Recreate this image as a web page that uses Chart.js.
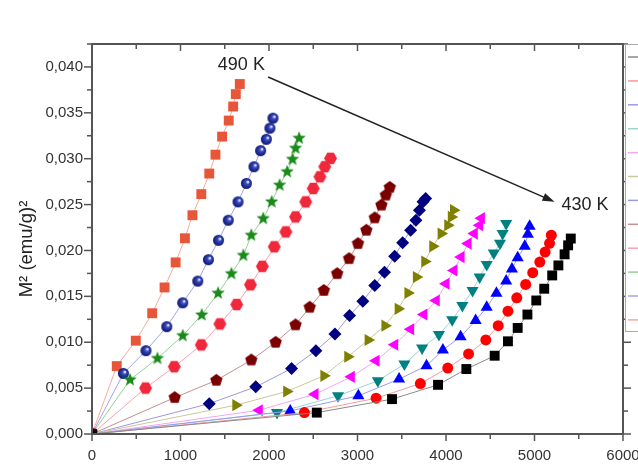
<!DOCTYPE html>
<html>
<head>
  <title>Arrott plot</title>
  <script src="https://cdn.jsdelivr.net/npm/chart.js"></script>
  <style>
    body { margin: 0; background: #fff; }
  </style>
</head>
<body>
<canvas id="myChart" width="638" height="470"></canvas>

<script>
// H/M (x) and M^2 (y) for each isotherm
var x430 = [0, 2540, 3390, 3910, 4230, 4550, 4700, 4810, 4920, 5020, 5110, 5200, 5270, 5340, 5380, 5410];
var y430 = [0, 0.00233, 0.00380, 0.00536, 0.00708, 0.00853, 0.01010, 0.01156, 0.01302, 0.01455, 0.01583, 0.01728, 0.01837, 0.01958, 0.02056, 0.02130];
var x435 = [0, 2400, 3210, 3710, 4020, 4255, 4450, 4590, 4700, 4800, 4900, 4980, 5060, 5120, 5170, 5190];
var y435 = [0, 0.00233, 0.00390, 0.00550, 0.00719, 0.00872, 0.01025, 0.01181, 0.01338, 0.01484, 0.01630, 0.01758, 0.01874, 0.01983, 0.02078, 0.02166];
var x440 = [0, 2240, 3010, 3470, 3780, 3965, 4165, 4335, 4460, 4570, 4680, 4745, 4810, 4890, 4925, 4945];
var y440 = [0, 0.00252, 0.00416, 0.00598, 0.00744, 0.00915, 0.01061, 0.01236, 0.01381, 0.01535, 0.01666, 0.01799, 0.01920, 0.02045, 0.02177, 0.02264];
var x445 = [0, 2090, 2780, 3230, 3530, 3730, 3920, 4070, 4185, 4300, 4380, 4460, 4540, 4610, 4640, 4680];
var y445 = [0, 0.00233, 0.00416, 0.00580, 0.00762, 0.00937, 0.01083, 0.01244, 0.01400, 0.01564, 0.01710, 0.01848, 0.01972, 0.02078, 0.02184, 0.02294];
var x450 = [0, 1890, 2520, 2930, 3210, 3420, 3600, 3750, 3890, 4000, 4090, 4170, 4250, 4320, 4380, 4400];
var y450 = [0, 0.00259, 0.00434, 0.00623, 0.00798, 0.00973, 0.01141, 0.01302, 0.01455, 0.01637, 0.01783, 0.01928, 0.02075, 0.02184, 0.02275, 0.02352];
var x455 = [0, 1625, 2200, 2620, 2890, 3120, 3310, 3460, 3570, 3665, 3760, 3850, 3945, 4020, 4060, 4085];
var y455 = [0, 0.00314, 0.00463, 0.00634, 0.00842, 0.01025, 0.01181, 0.01364, 0.01537, 0.01710, 0.01880, 0.02045, 0.02184, 0.02275, 0.02366, 0.02439];
var x460 = [0, 1325, 1850, 2255, 2530, 2745, 2910, 3060, 3195, 3305, 3420, 3510, 3600, 3660, 3700, 3740, 3770];
var y460 = [0, 0.00331, 0.00514, 0.00714, 0.00908, 0.01090, 0.01291, 0.01447, 0.01619, 0.01764, 0.01936, 0.02084, 0.02220, 0.02330, 0.02439, 0.02530, 0.02567];
var x465 = [0, 935, 1405, 1800, 2075, 2300, 2460, 2620, 2770, 2905, 3005, 3100, 3195, 3270, 3320, 3365];
var y465 = [0, 0.00397, 0.00585, 0.00806, 0.00999, 0.01189, 0.01381, 0.01564, 0.01747, 0.01911, 0.02075, 0.02220, 0.02355, 0.02494, 0.02603, 0.02687];
var x470 = [0, 605, 930, 1235, 1445, 1635, 1790, 1925, 2060, 2190, 2300, 2415, 2500, 2575, 2630, 2695];
var y470 = [0, 0.00500, 0.00733, 0.00971, 0.01200, 0.01411, 0.01626, 0.01827, 0.02040, 0.02202, 0.02366, 0.02530, 0.02676, 0.02803, 0.02913, 0.03004];
var x480 = [0, 430, 740, 1025, 1240, 1425, 1575, 1710, 1800, 1935, 2030, 2120, 2205, 2265, 2300, 2340];
var y480 = [0, 0.00591, 0.00824, 0.01072, 0.01298, 0.01535, 0.01747, 0.01947, 0.02166, 0.02348, 0.02530, 0.02712, 0.02858, 0.02994, 0.03114, 0.03223];
var x485 = [0, 355, 610, 845, 1025, 1195, 1315, 1430, 1540, 1650, 1745, 1830, 1905, 1970, 2010, 2045];
var y485 = [0, 0.00660, 0.00908, 0.01170, 0.01430, 0.01666, 0.01900, 0.02111, 0.02330, 0.02530, 0.02731, 0.02913, 0.03088, 0.03212, 0.03333, 0.03442];
var x490 = [0, 280, 495, 680, 820, 945, 1050, 1135, 1235, 1325, 1395, 1470, 1545, 1595, 1625, 1670];
var y490 = [0, 0.00740, 0.01017, 0.01316, 0.01597, 0.01870, 0.02133, 0.02384, 0.02614, 0.02838, 0.03044, 0.03241, 0.03416, 0.03569, 0.03704, 0.03814];

var xTicks = [0, 1000, 2000, 3000, 4000, 5000, 6000];
var yTicks = [0, 0.005, 0.010, 0.015, 0.020, 0.025, 0.030, 0.035, 0.040];
var yTitle = 'M² (emu/g)²';

// arrow from 490 K to 430 K, in data units
var labelHigh = { text: '490 K', x: 1422, y: 0.0397 };
var labelLow = { text: '430 K', x: 5305, y: 0.0244 };
var arrowFrom = [1990, 0.0389];
var arrowTo = [5226, 0.0253];

function pts(xs, ys) {
  return xs.map(function (v, i) { return { x: v, y: ys[i] }; });
}

// small canvases for marker shapes Chart.js does not have
function polyMarker(n, r, color, inner, rot) {
  var size = Math.ceil(r * 2) + 2;
  var c = document.createElement('canvas');
  c.width = c.height = size;
  var g = c.getContext('2d');
  var cx = size / 2, cy = size / 2;
  g.beginPath();
  var steps = inner ? n * 2 : n;
  for (var i = 0; i < steps; i++) {
    var a = -Math.PI / 2 + (rot || 0) + i * 2 * Math.PI / steps;
    var rr = inner && i % 2 ? inner : r;
    var px = cx + rr * Math.cos(a), py = cy + rr * Math.sin(a);
    if (i === 0) g.moveTo(px, py); else g.lineTo(px, py);
  }
  g.closePath();
  g.fillStyle = color;
  g.fill();
  return c;
}

function sphereMarker(r) {
  var size = Math.ceil(r * 2) + 2;
  var c = document.createElement('canvas');
  c.width = c.height = size;
  var g = c.getContext('2d');
  var cx = size / 2, cy = size / 2;
  var grad = g.createRadialGradient(cx + r * 0.3, cy - r * 0.3, 0.5, cx, cy, r);
  grad.addColorStop(0, '#e8ecff');
  grad.addColorStop(0.3, '#3a4cc0');
  grad.addColorStop(1, '#0a1470');
  g.beginPath();
  g.arc(cx, cy, r, 0, Math.PI * 2);
  g.fillStyle = grad;
  g.fill();
  return c;
}

function series(label, xs, ys, line, mark, style, radius, rot) {
  return {
    label: label,
    data: pts(xs, ys),
    showLine: true,
    borderColor: line,
    borderWidth: 1,
    pointStyle: style,
    pointRadius: radius,
    pointHoverRadius: radius,
    pointRotation: rot || 0,
    pointBackgroundColor: mark,
    pointBorderColor: mark,
    pointBorderWidth: 0
  };
}

var datasets = [
  series('430 K', x430, y430, '#8a8a8a', '#000000', 'rect', 7),
  series('435 K', x435, y435, '#f59a9a', '#ff0000', 'circle', 5.5),
  series('440 K', x440, y440, '#9a9af0', '#0000ff', 'triangle', 7),
  series('445 K', x445, y445, '#9ad4d4', '#008080', 'triangle', 7, 180),
  series('450 K', x450, y450, '#f2a6f2', '#ff00ff', 'triangle', 7, -90),
  series('455 K', x455, y455, '#c8c89a', '#808000', 'triangle', 7, 90),
  series('460 K', x460, y460, '#9a9ad8', '#000080', 'rectRot', 6.5),
  series('465 K', x465, y465, '#c49090', '#7a0000', polyMarker(5, 6.5, '#7a0000'), 6.5),
  series('470 K', x470, y470, '#f5a4ac', '#f0283c', polyMarker(6, 6.5, '#f0283c', 0, Math.PI / 6), 6.5),
  series('480 K', x480, y480, '#96d096', '#1a8a1a', polyMarker(5, 7, '#1a8a1a', 3), 7),
  series('485 K', x485, y485, '#a4a4e4', '#0f1a8c', sphereMarker(5.5), 5.5),
  series('490 K', x490, y490, '#f5ab9c', '#e8563a', 'rect', 7)
];

var tickFont = { family: 'Liberation Sans, Arial, sans-serif', size: 15 };

var decor = {
  id: 'decor',
  afterDraw: function (chart) {
    var ctx = chart.ctx, a = chart.chartArea;
    var xs = chart.scales.x, ys = chart.scales.y;
    ctx.save();
    ctx.strokeStyle = '#555';
    ctx.lineWidth = 1.5;
    function seg(x1, y1, x2, y2) {
      ctx.beginPath(); ctx.moveTo(x1, y1); ctx.lineTo(x2, y2); ctx.stroke();
    }
    // minor and major ticks on all four sides
    for (var v = 0; v <= 6000; v += 500) {
      var px = xs.getPixelForValue(v);
      var len = v % 1000 === 0 ? 7 : 5;
      seg(px, a.bottom, px, a.bottom + len);
      seg(px, a.top, px, a.top + len);
    }
    for (var k = 0; k <= 17; k++) {
      var py = ys.getPixelForValue(k * 0.0025);
      var l2 = k % 2 === 0 ? 8 : 5;
      seg(a.left - l2, py, a.left, py);
      seg(a.right, py, a.right + l2, py);
    }
    ctx.lineWidth = 2;
    ctx.strokeRect(a.left, a.top, a.right - a.left, a.bottom - a.top);

    // legend box, cut off by the right edge
    ctx.fillStyle = '#fff';
    ctx.fillRect(a.right + 2, a.top, 40, 287);
    ctx.strokeStyle = '#aaa';
    ctx.lineWidth = 1;
    ctx.strokeRect(a.right + 2.5, a.top + 0.5, 40, 287);
    ctx.lineWidth = 1.5;
    for (var i = 0; i < chart.data.datasets.length; i++) {
      ctx.strokeStyle = chart.data.datasets[i].borderColor;
      var ly = a.top + 13 + i * 23.9;
      seg(a.right + 5, ly, a.right + 20, ly);
    }

    // arrow
    var x1 = xs.getPixelForValue(arrowFrom[0]), y1 = ys.getPixelForValue(arrowFrom[1]);
    var x2 = xs.getPixelForValue(arrowTo[0]), y2 = ys.getPixelForValue(arrowTo[1]);
    var ang = Math.atan2(y2 - y1, x2 - x1);
    ctx.strokeStyle = '#222';
    ctx.fillStyle = '#222';
    ctx.lineWidth = 1.5;
    seg(x1, y1, x2 - 8 * Math.cos(ang), y2 - 8 * Math.sin(ang));
    ctx.beginPath();
    ctx.moveTo(x2, y2);
    ctx.lineTo(x2 - 12 * Math.cos(ang) + 4 * Math.sin(ang), y2 - 12 * Math.sin(ang) - 4 * Math.cos(ang));
    ctx.lineTo(x2 - 12 * Math.cos(ang) - 4 * Math.sin(ang), y2 - 12 * Math.sin(ang) + 4 * Math.cos(ang));
    ctx.closePath();
    ctx.fill();

    ctx.font = '18px "Liberation Sans", Arial, sans-serif';
    ctx.textBaseline = 'alphabetic';
    ctx.textAlign = 'left';
    ctx.fillText(labelHigh.text, xs.getPixelForValue(labelHigh.x), ys.getPixelForValue(labelHigh.y));
    ctx.fillText(labelLow.text, xs.getPixelForValue(labelLow.x), ys.getPixelForValue(labelLow.y));

    // y axis title
    ctx.translate(27, 249);
    ctx.rotate(-Math.PI / 2);
    ctx.textAlign = 'center';
    ctx.textBaseline = 'middle';
    ctx.font = '18.5px "Liberation Sans", Arial, sans-serif';
    ctx.fillText(yTitle, 0, 0);
    ctx.restore();
  }
};

var ctx = document.getElementById('myChart').getContext('2d');
var chart = new Chart(ctx, {
  type: 'scatter',
  data: { datasets: datasets },
  options: {
    responsive: false,
    animation: false,
    layout: { padding: { top: 44, right: 15, left: 0, bottom: 0 } },
    plugins: { legend: { display: false }, tooltip: { enabled: false } },
    scales: {
      x: {
        type: 'linear', min: 0, max: 6000,
        grid: { display: false }, border: { display: false },
        afterBuildTicks: function (s) { s.ticks = xTicks.map(function (v) { return { value: v }; }); },
        ticks: { color: '#333', font: tickFont, padding: 5, maxRotation: 0, autoSkip: false,
                 callback: function (v) { return String(v); } },
        afterFit: function (s) { s.height = 36; s.paddingLeft = 0; s.paddingRight = 0; }
      },
      y: {
        type: 'linear', min: 0, max: 0.0425,
        grid: { display: false }, border: { display: false },
        afterBuildTicks: function (s) { s.ticks = yTicks.map(function (v) { return { value: v }; }); },
        ticks: { color: '#333', font: tickFont, padding: 1, autoSkip: false,
                 callback: function (v) { return v.toFixed(3).replace('.', ','); } },
        afterFit: function (s) { s.width = 92; s.paddingTop = 0; s.paddingBottom = 0; }
      }
    }
  },
  plugins: [decor]
});
</script>
</body>
</html>
